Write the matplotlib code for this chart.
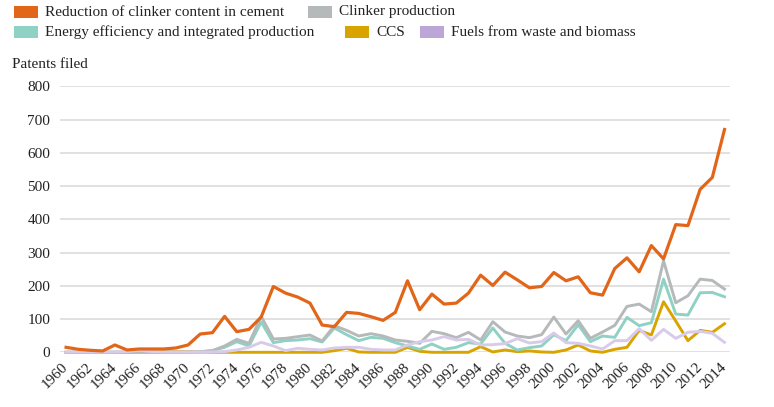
import numpy as np
import matplotlib

matplotlib.use("Agg")

import matplotlib.pyplot as plt
from matplotlib.patches import Rectangle

plt.rcParams["font.family"] = ["Liberation Serif", "DejaVu Serif"]

years = list(range(1960, 2015))

clinker_reduction = [15, 9, 6, 4, 22, 7, 10, 10, 10, 13,
                     22, 55, 59, 108, 62, 69, 106, 198, 178, 166,
                     148, 82, 77, 120, 117, 107, 96, 120, 215, 128,
                     175, 145, 148, 178, 232, 201, 241, 218, 194, 198,
                     240, 215, 227, 179, 172, 252, 284, 242, 321, 281,
                     384, 381, 490, 526, 670]

clinker_production = [0, 0, 0, 0, 0, 0, 0, 0, 0, 0,
                      0, 2, 5, 19, 39, 27, 108, 40, 42, 47,
                      52, 34, 80, 66, 49, 56, 49, 37, 33, 27,
                      63, 56, 44, 60, 37, 92, 61, 49, 44, 53,
                      106, 55, 95, 42, 61, 81, 138, 145, 122, 275,
                      149, 170, 220, 216, 190]

energy_efficiency = [0, 0, 0, 0, 0, 0, 0, 0, 0, 0,
                     0, 1, 5, 15, 32, 19, 91, 29, 35, 37,
                     41, 31, 73, 53, 35, 45, 42, 29, 19, 9,
                     25, 9, 15, 29, 25, 73, 27, 7, 14, 19,
                     53, 35, 83, 32, 49, 45, 105, 80, 89, 220,
                     115, 112, 179, 180, 167]

ccs = [0, 0, 0, 0, 0, 0, 2, 2, 2, 2,
       2, 1, 0, 0, 0, 0, 0, 0, 0, 0,
       0, 0, 5, 12, 1, 0, 0, 0, 15, 3,
       0, 0, 0, 0, 17, 1, 7, 2, 4, 1,
       0, 7, 22, 4, 0, 9, 15, 66, 52, 152,
       94, 35, 66, 60, 86]

fuels = [1, 1, 1, 1, 1, 2, 6, 2, 1, 1,
         1, 1, 1, 2, 7, 15, 30, 19, 5, 12,
         9, 7, 13, 15, 15, 9, 7, 7, 22, 32,
         37, 47, 37, 39, 22, 23, 26, 41, 28, 32,
         58, 29, 27, 19, 10, 35, 35, 71, 36, 69,
         42, 60, 63, 57, 30]

series_labels = ["Reduction of clinker content in cement", "Clinker production",
                 "Energy efficiency and integrated production", "CCS",
                 "Fuels from waste and biomass"]
line_colors = ["#E2661A", "#B5B9BA", "#8FD1C4", "#D9A300", "#D8CBEA"]
patch_colors = ["#E2661A", "#B5B9BA", "#8FD1C4", "#D9A300", "#BBA6D7"]

W, H = 774, 407
fig = plt.figure(figsize=(W / 100, H / 100), dpi=100)
ax = fig.add_axes([60 / W, 1 - 352.3 / H, 670 / W, 266 / H])

# draw order: gold, teal, gray, lavender, orange on top
ax.plot(years, ccs, color=line_colors[3], lw=2.1, clip_on=False, zorder=3)
ax.plot(years, energy_efficiency, color=line_colors[2], lw=2.1, clip_on=False, zorder=4)
ax.plot(years, clinker_production, color=line_colors[1], lw=2.1, clip_on=False, zorder=5)
ax.plot(years, fuels, color=line_colors[4], lw=2.1, clip_on=False, zorder=6)
ax.plot(years, clinker_reduction, color=line_colors[0], lw=2.3, clip_on=False, zorder=7)

ax.set_xlim(1959.5, 2014.45)
ax.set_ylim(0, 800)
ax.set_yticks(range(0, 801, 100))
ax.set_xticks(years[::2])
ax.set_xticklabels([str(y) for y in years[::2]], rotation=45, ha="right",
                   va="center", rotation_mode="anchor")
ax.tick_params(axis="both", length=0, labelsize=11, colors="#222222")
ax.tick_params(axis="y", pad=7)
ax.tick_params(axis="x", pad=9)
ax.grid(axis="y", color="#DEDEDE", lw=1.3)
ax.set_axisbelow(True)
for s in ax.spines.values():
    s.set_visible(False)

fig.text(12 / W, 1 - 64 / H, "Patents filed", fontsize=11, color="#222222", va="center")

# legend laid out in two flowing rows
legend_pos = [(14, 12), (308, 12), (14, 32), (345, 32), (420, 32)]
for (px, py), lab, c in zip(legend_pos, series_labels, patch_colors):
    fig.add_artist(Rectangle((px / W, 1 - (py + 5.5) / H), 24 / W, 11 / H,
                             transform=fig.transFigure, color=c, lw=0))
    fig.text((px + 31) / W, 1 - py / H, lab, fontsize=11, color="#222222", va="center")

fig.savefig("out.png", dpi=100)
